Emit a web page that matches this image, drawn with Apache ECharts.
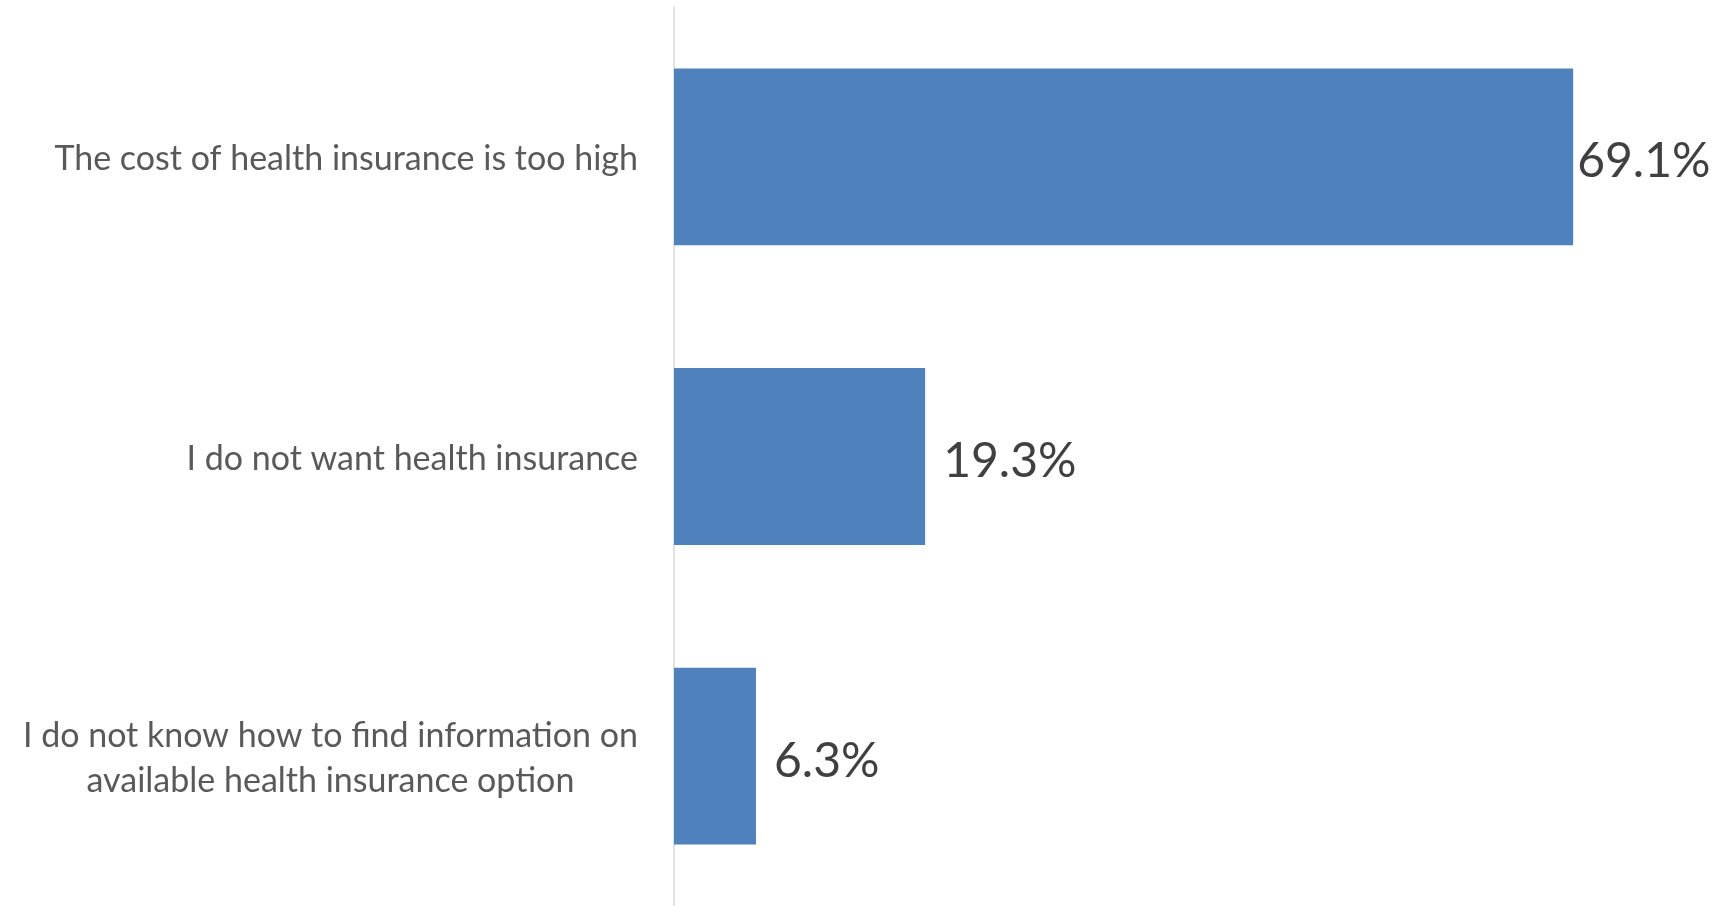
<!DOCTYPE html>
<html>
<head>
<meta charset="utf-8">
<script src="https://cdn.jsdelivr.net/npm/echarts@6/dist/echarts.min.js"></script>
<style>
  html, body { margin: 0; padding: 0; background: #ffffff; }
  #chart { width: 1727px; height: 906px; }
</style>
</head>
<body>
<div id="chart"></div>
<script>
// Reasons given for not having health insurance (share of respondents, %)
const categories = [
  'The cost of health insurance is too high',
  'I do not want health insurance',
  'I do not know how to find information on\navailable health insurance option'
];
const shares = [69.1, 19.3, 6.3];

const chart = echarts.init(document.getElementById('chart'));

// Multi-line labels: each line is centred inside the right-aligned block
const labelFormatter = (text) =>
  text.split('\n').map(line => '{c|' + line + '}').join('\n');

chart.setOption({
  animation: false,
  grid: { left: 674, width: 1041, top: 7, height: 902, containLabel: false },
  xAxis: {
    type: 'value',
    min: 0,
    max: 80,
    show: false,
    splitLine: { show: false }
  },
  yAxis: {
    type: 'category',
    data: categories,
    inverse: true,
    axisLine: { show: true, lineStyle: { color: '#D9D9D9', width: 1.5 } },
    axisTick: { show: false },
    axisLabel: {
      margin: 36,
      align: 'right',
      formatter: labelFormatter,
      rich: {
        c: {
          align: 'center',
          fontFamily: 'Lato',
          fontSize: 34,
          color: '#595959',
          lineHeight: 45,
          padding: [5, 0, 0, 0]
        }
      }
    }
  },
  series: [{
    type: 'bar',
    barCategoryGap: '41%',
    itemStyle: { color: '#4F81BD' },
    data: shares.map((v, i) => ({
      value: v,
      label: { distance: i === 0 ? 4 : 18 }
    })),
    label: {
      show: true,
      position: 'right',
      offset: [0, 5],
      formatter: (p) => p.value.toFixed(1) + '%',
      fontFamily: 'Lato',
      fontSize: 48,
      color: '#404040'
    }
  }]
});
</script>
</body>
</html>
